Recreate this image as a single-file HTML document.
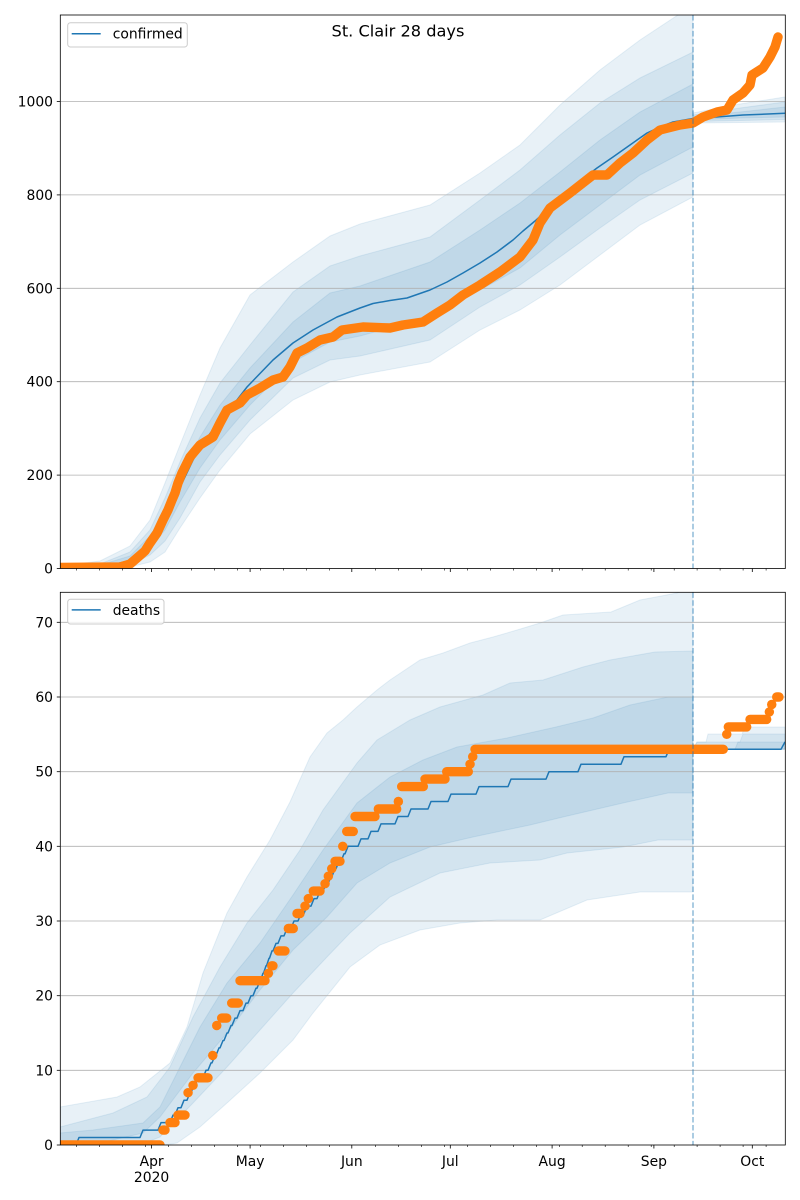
<!DOCTYPE html>
<html><head><meta charset="utf-8"><style>
html,body{margin:0;padding:0;background:#fff;}
svg{display:block;}
text{font-family:"DejaVu Sans","Liberation Sans",sans-serif;font-size:13.9px;fill:#000;}
</style></head><body>
<svg width="800" height="1200" viewBox="0 0 800 1200" xmlns="http://www.w3.org/2000/svg">
<defs>
<clipPath id="c1"><rect x="60.3" y="15" width="725" height="553.5"/></clipPath>
<clipPath id="c2"><rect x="60.3" y="592.3" width="725" height="552.7"/></clipPath>
</defs>
<rect width="800" height="1200" fill="#fff"/>

<!-- ============ TOP AXES ============ -->
<g clip-path="url(#c1)">
 <g fill="#1f77b4" fill-opacity="0.1" stroke="#1f77b4" stroke-opacity="0.1" stroke-width="1">
  <polygon points="60,566 100,561 130,546 150,520 165,483 180,445 200,395 220,348 250,295 293,262 330,236 360,224 430,205 480,173 520,145 560,105 600,70 640,40 693,5 693,197 640,225 600,255 560,285 520,310 480,330 430,362 360,375 330,382 293,400 250,434 220,470 200,498 180,528 165,552 150,562 130,567 100,568.5 60,568.5"/>
  <polygon points="60,567 100,564 130,552 150,530 165,498 180,462 200,418 220,383 250,345 293,292 330,266 360,256 430,237 480,200 520,170 560,135 600,103 640,78 693,52 693,173 640,200 600,228 560,257 520,285 480,307 430,340 360,356 330,360 293,378 250,420 220,455 200,482 180,518 165,541 150,555 130,565 100,567.5 60,568.5"/>
  <polygon points="60,567.5 100,565 130,556 150,536 165,510 180,476 200,437 220,405 250,368 293,322 330,293 360,286 430,262 480,230 520,203 560,172 600,140 640,112 693,84 693,147 640,175 600,205 560,235 520,268 480,290 430,317 360,336 330,342 293,362 250,405 220,440 200,468 180,502 165,530 150,548 130,563 100,567 60,568"/>
  <polygon points="693,113 740,104 785,97 785,122 740,122.5 693,123"/>
  <polygon points="693,115 740,108 785,102 785,119.5 740,120.5 693,121.5"/>
  <polygon points="693,116.5 740,112 785,107 785,117 740,118 693,120"/>
 </g>
 <g stroke="#b0b0b0" stroke-width="0.8">
  <line x1="60" y1="475.1" x2="786" y2="475.1"/>
  <line x1="60" y1="381.7" x2="786" y2="381.7"/>
  <line x1="60" y1="288.3" x2="786" y2="288.3"/>
  <line x1="60" y1="194.9" x2="786" y2="194.9"/>
  <line x1="60" y1="101.5" x2="786" y2="101.5"/>
 </g>
 <polyline fill="none" stroke="#1f77b4" stroke-width="1.5" stroke-linejoin="round" points="60,568 90,567 110,565 125,562 137,556.5 150,543 160,528 170,508 183,481 193,460 203,443 215,427 227,413 247,387 273,360 293,343 313,330 337,317 360,308 373,303.5 390,300.5 407,298 430,290 447,282 463,273 480,263 497,252 513,240 523,231 535,221 547,210 563,195 580,181 597,168 613,157 630,145 647,133 660,127 673,122 693,118.5 710,117.5 743,115 785,113.3"/>
 <polyline fill="none" stroke="#ff7f0e" stroke-width="9.4" stroke-linejoin="round" stroke-linecap="round" points="60,567.5 120,567 130,564 137,558 145,551 150,543 157,533 163,520 168,510 172,500 175,493 178,483 182,473 190,457 200,445 213,437 220,423 227,410 240,403 247,395 260,388 273,380 283,377 290,367 297,353 307,348 320,340 333,337 342,330 363,327 390,328 403,325 423,322 437,313 450,305 463,295 480,285 500,272 520,257 533,240 540,223 550,208 570,193 593,175 607,175 620,163 633,153 647,140 660,130 680,125 693,123 703,117 717,112 727,110 733,100 743,93 750,85 752,75 763,68 770,57 775,47 778,37"/>
 <line x1="693" y1="15" x2="693" y2="568.5" stroke="#1f77b4" stroke-opacity="0.5" stroke-width="1.5" stroke-dasharray="5.55,2.4"/>
</g>
<rect x="60.3" y="15" width="725" height="553.5" fill="none" stroke="#000" stroke-width="0.8"/>
<!-- top y ticks -->
<g stroke="#000" stroke-width="0.8">
 <line x1="56.8" y1="568.5" x2="60.3" y2="568.5"/>
 <line x1="56.8" y1="475.1" x2="60.3" y2="475.1"/>
 <line x1="56.8" y1="381.7" x2="60.3" y2="381.7"/>
 <line x1="56.8" y1="288.3" x2="60.3" y2="288.3"/>
 <line x1="56.8" y1="194.9" x2="60.3" y2="194.9"/>
 <line x1="56.8" y1="101.5" x2="60.3" y2="101.5"/>
</g>
<g text-anchor="end">
 <text x="53" y="573.5">0</text>
 <text x="53" y="480.1">200</text>
 <text x="53" y="386.7">400</text>
 <text x="53" y="293.3">600</text>
 <text x="53" y="199.9">800</text>
 <text x="53" y="106.5">1000</text>
</g>
<!-- top x ticks -->
<g stroke="#000" stroke-width="0.8">
 <line x1="151.6" y1="568.5" x2="151.6" y2="572"/>
 <line x1="250.1" y1="568.5" x2="250.1" y2="572"/>
 <line x1="351.8" y1="568.5" x2="351.8" y2="572"/>
 <line x1="450.3" y1="568.5" x2="450.3" y2="572"/>
 <line x1="552.1" y1="568.5" x2="552.1" y2="572"/>
 <line x1="653.9" y1="568.5" x2="653.9" y2="572"/>
 <line x1="752.3" y1="568.5" x2="752.3" y2="572"/>
</g>
<g stroke="#000" stroke-width="0.6">
 <line x1="76.6" y1="568.5" x2="76.6" y2="570.5"/><line x1="99.6" y1="568.5" x2="99.6" y2="570.5"/><line x1="122.6" y1="568.5" x2="122.6" y2="570.5"/><line x1="145.6" y1="568.5" x2="145.6" y2="570.5"/><line x1="168.6" y1="568.5" x2="168.6" y2="570.5"/><line x1="191.5" y1="568.5" x2="191.5" y2="570.5"/><line x1="214.5" y1="568.5" x2="214.5" y2="570.5"/><line x1="237.5" y1="568.5" x2="237.5" y2="570.5"/><line x1="260.5" y1="568.5" x2="260.5" y2="570.5"/><line x1="283.5" y1="568.5" x2="283.5" y2="570.5"/><line x1="306.4" y1="568.5" x2="306.4" y2="570.5"/><line x1="329.4" y1="568.5" x2="329.4" y2="570.5"/><line x1="375.4" y1="568.5" x2="375.4" y2="570.5"/><line x1="398.4" y1="568.5" x2="398.4" y2="570.5"/><line x1="421.4" y1="568.5" x2="421.4" y2="570.5"/><line x1="444.4" y1="568.5" x2="444.4" y2="570.5"/><line x1="467.3" y1="568.5" x2="467.3" y2="570.5"/><line x1="490.3" y1="568.5" x2="490.3" y2="570.5"/><line x1="513.3" y1="568.5" x2="513.3" y2="570.5"/><line x1="536.3" y1="568.5" x2="536.3" y2="570.5"/><line x1="559.3" y1="568.5" x2="559.3" y2="570.5"/><line x1="582.2" y1="568.5" x2="582.2" y2="570.5"/><line x1="605.2" y1="568.5" x2="605.2" y2="570.5"/><line x1="628.2" y1="568.5" x2="628.2" y2="570.5"/><line x1="651.2" y1="568.5" x2="651.2" y2="570.5"/><line x1="674.2" y1="568.5" x2="674.2" y2="570.5"/><line x1="697.1" y1="568.5" x2="697.1" y2="570.5"/><line x1="720.1" y1="568.5" x2="720.1" y2="570.5"/><line x1="743.1" y1="568.5" x2="743.1" y2="570.5"/><line x1="766.1" y1="568.5" x2="766.1" y2="570.5"/>
</g>
<!-- top legend -->
<rect x="67.7" y="22.7" width="119.6" height="24.3" rx="2.8" ry="2.8" fill="#fff" fill-opacity="0.8" stroke="#cccccc" stroke-width="1"/>
<line x1="71.7" y1="33.7" x2="100.7" y2="33.7" stroke="#1f77b4" stroke-width="1.5"/>
<text x="112.7" y="38.6">confirmed</text>
<!-- title -->
<text x="398" y="36.3" text-anchor="middle" style="font-size:16.2px">St. Clair 28 days</text>

<!-- ============ BOTTOM AXES ============ -->
<g clip-path="url(#c2)">
 <g fill="#1f77b4" fill-opacity="0.1" stroke="#1f77b4" stroke-opacity="0.1" stroke-width="1">
  <polygon points="60,1107 117,1097 140,1087 170,1063 187,1027 203,973 227,913 247,877 270,840 290,802 310,757 327,733 343,720 357,707 377,690 390,680 420,660 443,653 470,643 493,637 517,630 540,623 563,615 611,612 640,600 677,593 693,585 693,892 640,892 587,900 540,920 497,920 460,923 420,930 380,945 350,967 313,1013 293,1040 260,1073 227,1103 200,1127 177,1143 165,1145 60,1145"/>
  <polygon points="60,1127 113,1113 147,1097 170,1067 193,1017 220,967 247,923 273,890 300,850 323,810 357,763 377,740 410,720 440,707 483,695 510,683 543,680 583,667 610,660 655,652 693,651 693,840 658,840 623,847 567,853 540,860 490,863 440,873 390,897 350,933 327,957 293,993 260,1030 227,1067 193,1103 160,1137 140,1145 60,1145"/>
  <polygon points="60,1133 93,1130 143,1123 160,1107 177,1073 200,1027 227,983 260,943 293,895 323,850 357,803 390,777 423,760 457,747 507,738 556,727 593,718 630,705 668,697 693,697 693,793 668,793 623,803 563,817 530,825 473,837 430,847 390,863 357,883 327,917 293,950 260,990 227,1033 193,1073 160,1117 143,1133 100,1143 60,1145"/>
  <polygon points="693,749 697,742 706,742 708,734 742,734 745,727 785,727 785,749.3 693,749.3"/>
  <polygon points="693,749 697,742 740,742 743,734 785,734 785,749.3 693,749.3"/>
  <polygon points="693,749 735,749 738,742 785,742 785,749.3 693,749.3"/>
 </g>
 <g stroke="#b0b0b0" stroke-width="0.8">
  <line x1="60" y1="1070.3" x2="786" y2="1070.3"/>
  <line x1="60" y1="995.7" x2="786" y2="995.7"/>
  <line x1="60" y1="921" x2="786" y2="921"/>
  <line x1="60" y1="846.3" x2="786" y2="846.3"/>
  <line x1="60" y1="771.7" x2="786" y2="771.7"/>
  <line x1="60" y1="697" x2="786" y2="697"/>
  <line x1="60" y1="622.3" x2="786" y2="622.3"/>
 </g>
 <path fill="none" stroke="#1f77b4" stroke-width="1.5" stroke-linejoin="round" d="M60,1145 H76 L79,1137.5 H140 L143,1130.1 H158 L161,1122.6 H170 L173,1115.1 H175 L178,1107.7 H181 L184,1100.2 H187 L190,1092.7 H191 L194,1085.3 H195 L198,1077.8 H203 L206,1070.3 H208 L211,1062.9 H212 L215,1055.4 H216 L219,1047.9 H220 L223,1040.5 H224 L227,1033 H228 L231,1025.5 H232 L235,1018.1 H237 L240,1010.6 H243 L246,1003.1 H248 L251,995.7 H253 L256,988.2 H257 L260,980.7 H260.5 L263,973.3 H263.5 L266,965.8 H266.5 L269,958.3 H269.5 L272,950.9 H273 L276,943.4 H278 L281,935.9 H284 L287,928.5 H291 L294,921 H298 L301,913.5 H304 L307,906.1 H311 L314,898.6 H317 L320,891.1 H323 L326,883.7 H328 L331,876.2 H332 L335,868.7 H336 L339,861.3 H341 L344,853.8 H345 L348,846.3 H358 L361,838.9 H368 L371,831.4 H378 L381,823.9 H395 L398,816.5 H408 L411,809 H428 L431,801.5 H448 L451,794.1 H476 L479,786.6 H508 L511,779.1 H546 L549,771.7 H578 L581,764.2 H621 L624,756.7 H666 L669,749.3 H781 L785,741.8"/>
 <path fill="none" stroke="#ff7f0e" stroke-width="9.4" stroke-linecap="round" d="M60,1145H160 M163,1130.1H165 M170,1122.6H175 M178,1115.1H185 M188,1092.7h0.1 M193,1085.3h0.1 M198,1077.8H208 M212.7,1055.4h0.1 M216.7,1025.5h0.1 M221.7,1018.1H226.7 M231.7,1003.1H238.3 M240,980.7H265 M268.3,973.3h0.1 M271.7,965.8H273 M278.3,950.9H285 M288.3,928.5H293.3 M297,913.5H300 M305,906.1h0.1 M308.3,898.6h0.1 M313.3,891.1H320 M325,883.7h0.1 M328.3,876.2h0.1 M331.7,868.7h0.1 M335,861.3H340 M342.7,846.3h0.1 M346.7,831.4H353.3 M355,816.5H375 M378.3,809H396.7 M398.3,801.5h0.1 M401.7,786.6H423.3 M425,779.1H445 M446.7,771.7H468.3 M470,764.2h0.1 M472.7,756.7h0.1 M475,749.3H723.3 M726.7,734.3h0.1 M728.3,726.9H746.7 M750,719.4H766.7 M769.3,711.9h0.1 M771.7,704.5h0.1 M776.7,697H779"/>
 <line x1="693" y1="592.3" x2="693" y2="1145" stroke="#1f77b4" stroke-opacity="0.5" stroke-width="1.5" stroke-dasharray="5.55,2.4"/>
</g>
<rect x="60.3" y="592.3" width="725" height="552.7" fill="none" stroke="#000" stroke-width="0.8"/>
<!-- bottom y ticks -->
<g stroke="#000" stroke-width="0.8">
 <line x1="56.8" y1="1145" x2="60.3" y2="1145"/>
 <line x1="56.8" y1="1070.3" x2="60.3" y2="1070.3"/>
 <line x1="56.8" y1="995.7" x2="60.3" y2="995.7"/>
 <line x1="56.8" y1="921" x2="60.3" y2="921"/>
 <line x1="56.8" y1="846.3" x2="60.3" y2="846.3"/>
 <line x1="56.8" y1="771.7" x2="60.3" y2="771.7"/>
 <line x1="56.8" y1="697" x2="60.3" y2="697"/>
 <line x1="56.8" y1="622.3" x2="60.3" y2="622.3"/>
</g>
<g text-anchor="end">
 <text x="53" y="1150">0</text>
 <text x="53" y="1075.3">10</text>
 <text x="53" y="1000.7">20</text>
 <text x="53" y="926">30</text>
 <text x="53" y="851.3">40</text>
 <text x="53" y="776.7">50</text>
 <text x="53" y="702">60</text>
 <text x="53" y="627.3">70</text>
</g>
<!-- bottom x ticks -->
<g stroke="#000" stroke-width="0.8">
 <line x1="151.6" y1="1145" x2="151.6" y2="1148.5"/>
 <line x1="250.1" y1="1145" x2="250.1" y2="1148.5"/>
 <line x1="351.8" y1="1145" x2="351.8" y2="1148.5"/>
 <line x1="450.3" y1="1145" x2="450.3" y2="1148.5"/>
 <line x1="552.1" y1="1145" x2="552.1" y2="1148.5"/>
 <line x1="653.9" y1="1145" x2="653.9" y2="1148.5"/>
 <line x1="752.3" y1="1145" x2="752.3" y2="1148.5"/>
</g>
<g stroke="#000" stroke-width="0.6">
 <line x1="76.6" y1="1145" x2="76.6" y2="1147"/><line x1="99.6" y1="1145" x2="99.6" y2="1147"/><line x1="122.6" y1="1145" x2="122.6" y2="1147"/><line x1="145.6" y1="1145" x2="145.6" y2="1147"/><line x1="168.6" y1="1145" x2="168.6" y2="1147"/><line x1="191.5" y1="1145" x2="191.5" y2="1147"/><line x1="214.5" y1="1145" x2="214.5" y2="1147"/><line x1="237.5" y1="1145" x2="237.5" y2="1147"/><line x1="260.5" y1="1145" x2="260.5" y2="1147"/><line x1="283.5" y1="1145" x2="283.5" y2="1147"/><line x1="306.4" y1="1145" x2="306.4" y2="1147"/><line x1="329.4" y1="1145" x2="329.4" y2="1147"/><line x1="375.4" y1="1145" x2="375.4" y2="1147"/><line x1="398.4" y1="1145" x2="398.4" y2="1147"/><line x1="421.4" y1="1145" x2="421.4" y2="1147"/><line x1="444.4" y1="1145" x2="444.4" y2="1147"/><line x1="467.3" y1="1145" x2="467.3" y2="1147"/><line x1="490.3" y1="1145" x2="490.3" y2="1147"/><line x1="513.3" y1="1145" x2="513.3" y2="1147"/><line x1="536.3" y1="1145" x2="536.3" y2="1147"/><line x1="559.3" y1="1145" x2="559.3" y2="1147"/><line x1="582.2" y1="1145" x2="582.2" y2="1147"/><line x1="605.2" y1="1145" x2="605.2" y2="1147"/><line x1="628.2" y1="1145" x2="628.2" y2="1147"/><line x1="651.2" y1="1145" x2="651.2" y2="1147"/><line x1="674.2" y1="1145" x2="674.2" y2="1147"/><line x1="697.1" y1="1145" x2="697.1" y2="1147"/><line x1="720.1" y1="1145" x2="720.1" y2="1147"/><line x1="743.1" y1="1145" x2="743.1" y2="1147"/><line x1="766.1" y1="1145" x2="766.1" y2="1147"/>
</g>
<g text-anchor="middle">
 <text x="151.6" y="1166">Apr</text>
 <text x="151.6" y="1182">2020</text>
 <text x="250.1" y="1166">May</text>
 <text x="351.8" y="1166">Jun</text>
 <text x="450.3" y="1166">Jul</text>
 <text x="552.1" y="1166">Aug</text>
 <text x="653.9" y="1166">Sep</text>
 <text x="752.3" y="1166">Oct</text>
</g>
<!-- bottom legend -->
<rect x="67.7" y="599.3" width="96.3" height="24.7" rx="2.8" ry="2.8" fill="#fff" fill-opacity="0.8" stroke="#cccccc" stroke-width="1"/>
<line x1="71.7" y1="609.9" x2="100.7" y2="609.9" stroke="#1f77b4" stroke-width="1.5"/>
<text x="112.7" y="615">deaths</text>
</svg>
</body></html>
